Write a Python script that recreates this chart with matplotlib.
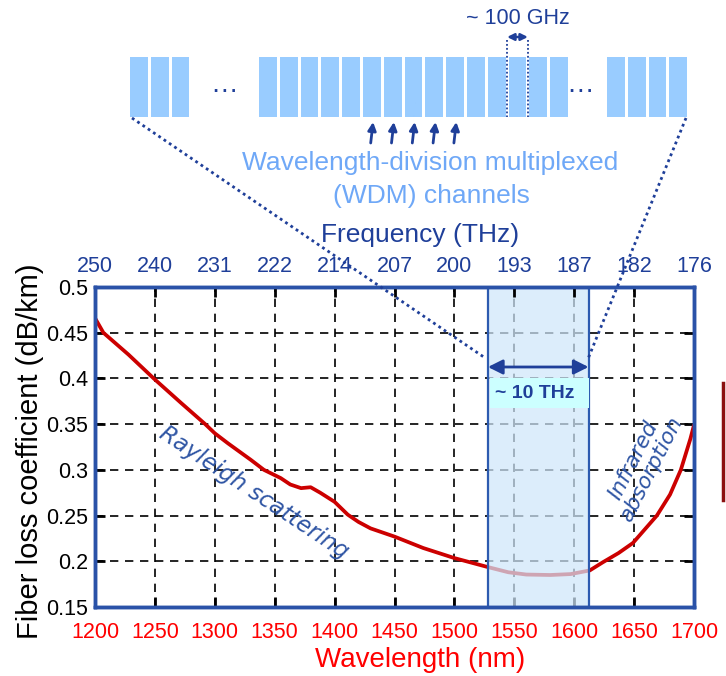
import matplotlib
matplotlib.use('Agg')
import matplotlib.pyplot as plt
from matplotlib.patches import Rectangle

# ---------------- data ----------------
wavelength_nm = [1200, 1207, 1228, 1249, 1272, 1292, 1300, 1311, 1330, 1341,
                 1355, 1363, 1372, 1380, 1388, 1400, 1411, 1420, 1430, 1450,
                 1474, 1500, 1527, 1545, 1560, 1580, 1597, 1613, 1624, 1637,
                 1649, 1669, 1680, 1689, 1697, 1700]
loss_db_per_km = [0.466, 0.450, 0.426, 0.400, 0.373, 0.350, 0.340, 0.329, 0.311, 0.300,
                  0.291, 0.284, 0.280, 0.281, 0.275, 0.265, 0.251, 0.243, 0.236, 0.227,
                  0.2145, 0.2035, 0.194, 0.188, 0.1855, 0.185, 0.186, 0.190, 0.199, 0.209,
                  0.220, 0.250, 0.273, 0.300, 0.334, 0.349]
x_ticks = [1200, 1250, 1300, 1350, 1400, 1450, 1500, 1550, 1600, 1650, 1700]
freq_labels = ['250', '240', '231', '222', '214', '207', '200', '193', '187', '182', '176']
y_ticks = [0.15, 0.2, 0.25, 0.3, 0.35, 0.4, 0.45, 0.5]
y_tick_labels = ['0.15', '0.2', '0.25', '0.3', '0.35', '0.4', '0.45', '0.5']
band_nm = [1528, 1612]
wdm_groups = [3, 15, 4]

# ---------------- style ----------------
plt.rcParams['font.family'] = ['Liberation Sans', 'DejaVu Sans']
DARK_BLUE = '#1F3F99'
SPINE_BLUE = '#2A52A8'
LIGHT_BLUE_TXT = '#6FA8F7'
RED = '#CC0000'

W, H = 726, 676
fig = plt.figure(figsize=(W / 100, H / 100), dpi=100)
fig.patch.set_facecolor('white')

ax = fig.add_axes([95 / W, 1 - 607 / H, (694 - 95) / W, (607 - 287) / H])
ax.set_xlim(1200, 1700)
ax.set_ylim(0.15, 0.5)
ax.set_axisbelow(True)
ax.grid(True, color='black', linestyle=(0, (5, 4)), linewidth=1.2)

ax.plot(wavelength_nm, loss_db_per_km, color=RED, linewidth=2.7, zorder=2,
        solid_joinstyle='round', solid_capstyle='round')

# transmission band
ax.axvspan(band_nm[0], band_nm[1], facecolor='#CFE6FA', alpha=0.72, edgecolor='none', zorder=3)
for b in band_nm:
    ax.axvline(b, color='#2D5BB0', linewidth=1.6, zorder=4)

ax.set_xticks(x_ticks)
ax.set_xticklabels([str(v) for v in x_ticks])
ax.set_yticks(y_ticks)
ax.set_yticklabels(y_tick_labels)
ax.tick_params(axis='x', direction='in', length=7, width=2, color='black',
               labelsize=15.5, labelcolor='#FF0000', pad=11, top=False)
ax.tick_params(axis='y', direction='in', length=7, width=2, color='black',
               labelsize=15.5, labelcolor='black', pad=5, right=True)
for s in ax.spines.values():
    s.set_color(SPINE_BLUE)
    s.set_linewidth(2.5)
    s.set_zorder(8)

ax2 = ax.twiny()
ax2.set_xlim(ax.get_xlim())
ax2.set_xticks(x_ticks)
ax2.set_xticklabels(freq_labels)
ax2.tick_params(axis='x', direction='in', length=7, width=2, color='black',
                labelsize=15.5, labelcolor=DARK_BLUE, pad=7)
for s in ax2.spines.values():
    s.set_color(SPINE_BLUE)
    s.set_linewidth(2.5)

# ~10 THz arrow and label
arrow_y = 0.4125
ax.annotate('', xy=(band_nm[0], arrow_y), xytext=(band_nm[1], arrow_y),
            arrowprops=dict(arrowstyle='<|-|>', color=DARK_BLUE, lw=2,
                            mutation_scale=22, shrinkA=0, shrinkB=0), zorder=7)
ax.add_patch(Rectangle((band_nm[0] + 2, 0.368), band_nm[1] - band_nm[0] - 2, 0.032,
                       facecolor='#CCFFFF', edgecolor='none', zorder=5))
ax.text(band_nm[0] + 6, 0.384, '~ 10 THz', fontsize=14, fontweight='bold',
        color=DARK_BLUE, ha='left', va='center', zorder=6)

# handwritten-style annotations
ax.text(1333, 0.2755, 'Rayleigh scattering', fontsize=16.5, color='#2F55A4',
        family='DejaVu Sans', style='italic', rotation=-33.5,
        rotation_mode='anchor', ha='center', va='center', zorder=6)
ax.text(1657, 0.306, 'Infrared\nabsorption', fontsize=15.5, color='#2F55A4',
        family='DejaVu Sans', style='italic', rotation=63, linespacing=1.0,
        rotation_mode='anchor', ha='center', va='center', zorder=6)

# ---------------- overlay (pixel coordinates) ----------------
ov = fig.add_axes([0, 0, 1, 1], zorder=10)
ov.set_xlim(0, W)
ov.set_ylim(H, 0)
ov.axis('off')
ov.patch.set_alpha(0)

pitch, bw, top, bh = 20.8, 17.8, 57, 60
group_starts = [130, 259, 607]
for g0, n in zip(group_starts, wdm_groups):
    for i in range(n):
        ov.add_patch(Rectangle((g0 + i * pitch, top), bw, bh, facecolor='#99CCFF',
                               edgecolor='none'))

# 100 GHz spacing marker on one channel of the central group
x_a = group_starts[1] + 12 * pitch - 1.5
x_b = group_starts[1] + 13 * pitch - 1.5
for xv in (x_a, x_b):
    ov.plot([xv, xv], [40, top + bh], color=DARK_BLUE, linestyle=(0, (1, 1.2)), lw=1.3)
ov.annotate('', xy=(x_a, 37), xytext=(x_b, 37),
            arrowprops=dict(arrowstyle='<|-|>', color=DARK_BLUE, lw=1.8,
                            mutation_scale=10, shrinkA=0, shrinkB=0))
ov.text((x_a + x_b) / 2, 19, '~ 100 GHz', fontsize=15.5, color=DARK_BLUE,
        ha='center', va='center')

ov.text(224, 85, '…', fontsize=20, color=DARK_BLUE, ha='center', va='center')
ov.text(580, 85, '…', fontsize=20, color=DARK_BLUE, ha='center', va='center')

for i in range(5, 10):
    xc = group_starts[1] + i * pitch + bw / 2
    ov.annotate('', xy=(xc + 1.2, 122), xytext=(xc - 1.2, 143),
                arrowprops=dict(arrowstyle='-|>', color=DARK_BLUE, lw=2,
                                mutation_scale=12, shrinkA=0, shrinkB=0))

ov.text(430, 163, 'Wavelength-division multiplexed', fontsize=19,
        color=LIGHT_BLUE_TXT, ha='center', va='center')
ov.text(431, 196, '(WDM) channels', fontsize=19, color=LIGHT_BLUE_TXT,
        ha='center', va='center')

ov.text(420, 235, 'Frequency (THz)', fontsize=19, color=DARK_BLUE,
        ha='center', va='center')
ov.text(420, 660, 'Wavelength (nm)', fontsize=20, color='#FF0000',
        ha='center', va='center')
ov.text(30, 451, 'Fiber loss coefficient (dB/km)', fontsize=21, color='black',
        rotation=90, ha='center', va='center')

# dotted zoom lines from the channel comb to the band
def to_ov(x, y):
    return ov.transData.inverted().transform(ax.transData.transform((x, y)))

left_end = to_ov(band_nm[0] - 3, 0.423)
right_end = to_ov(band_nm[1], 0.423)
ov.plot([132, left_end[0]], [118, left_end[1]], color=DARK_BLUE,
        linestyle=(0, (1, 1.3)), lw=2)
ov.plot([686, right_end[0]], [118, right_end[1]], color=DARK_BLUE,
        linestyle=(0, (1, 1.3)), lw=2)

# edge of neighbouring element at the right border
ov.plot([723, 723], [383, 500], color='#8B1010', lw=2.5)

fig.savefig('out.png', dpi=100)
